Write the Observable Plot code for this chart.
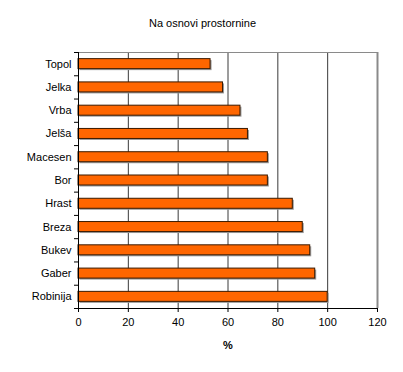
<!DOCTYPE html>
<html><head><meta charset="utf-8">
<script src="https://cdn.jsdelivr.net/npm/d3@7"></script>
<script src="https://cdn.jsdelivr.net/npm/@observablehq/plot@0.6"></script>
<style>body{margin:0;background:#fff;font-family:"Liberation Sans",Arial,sans-serif}</style>
</head><body><div id="chart"></div>
<script>
const species = ["Topol","Jelka","Vrba","Jelša","Macesen","Bor","Hrast","Breza","Bukev","Gaber","Robinija"];
const values = [53, 58, 65, 68, 76, 76, 86, 90, 93, 95, 100];
const xTicks = [0, 20, 40, 60, 80, 100, 120];
const gridTicks = [20, 40, 60, 80, 100];
const title = "Na osnovi prostornine";
const xLabel = "%";

const data = species.map((s, i) => ({species: s, value: values[i], i}));
const pad = 0.285;
const bounds = d3.range(species.length + 1);

const chart = Plot.plot({
  width: 403, height: 372,
  marginLeft: 78, marginRight: 26, marginTop: 52, marginBottom: 64,
  style: {fontFamily: "'Liberation Sans', Arial, sans-serif", fontSize: "11px", color: "#000"},
  x: {domain: [0, 120]},
  y: {domain: [0, species.length], reverse: true, axis: null},
  marks: [
    Plot.ruleX(gridTicks, {stroke: "#3a3a3a", strokeWidth: 1}),
    Plot.ruleX([120], {stroke: "#8a8a8a", strokeWidth: 2}),
    Plot.ruleY([0], {stroke: "#8a8a8a", strokeWidth: 1}),
    Plot.rectX(data, {x1: 0, x2: "value", y1: d => d.i + pad, y2: d => d.i + 1 - pad, fill: "#999", dx: 1.5, dy: 1.5}),
    Plot.rectX(data, {x1: 0, x2: "value", y1: d => d.i + pad, y2: d => d.i + 1 - pad, fill: "#FF6600", stroke: "#3a1a00", strokeWidth: 1}),
    Plot.ruleX([0], {stroke: "#000"}),
    Plot.ruleY([species.length], {stroke: "#000"}),
    Plot.axisY({ticks: bounds, tickFormat: () => "", tickSize: 4, stroke: "#000"}),
    Plot.axisY({ticks: data.map(d => d.i + 0.5), tickFormat: v => species[Math.floor(v)], tickSize: 0, tickPadding: 7, fontSize: 11, fill: "#000"}),
    Plot.axisX({ticks: xTicks, tickSize: 4, tickPadding: 6, fontSize: 11, label: null, stroke: "#000"}),
    Plot.text([xLabel], {frameAnchor: "bottom", lineAnchor: "middle", dy: 37, fontWeight: "bold", fontSize: 11}),
    Plot.text([title], {frameAnchor: "top", lineAnchor: "middle", dy: -29, dx: -25.5, fontSize: 11})
  ]
});
document.getElementById("chart").append(chart);
</script></body></html>
